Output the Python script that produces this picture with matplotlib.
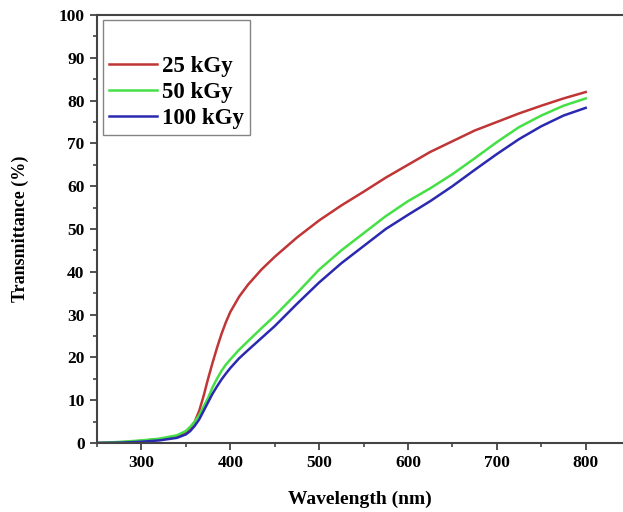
import matplotlib
matplotlib.use("Agg")
import matplotlib.pyplot as plt
from matplotlib.ticker import MultipleLocator

# wavelength (nm) and transmittance (%)
wavelength = [250, 280, 300, 320, 340, 350, 355, 360, 365, 370, 375, 380, 385,
              390, 395, 400, 410, 420, 435, 450, 475, 500, 525, 550, 575, 600,
              625, 650, 675, 700, 725, 750, 775, 800]

t_25kgy = [0, 0.2, 0.5, 0.9, 1.5, 2.5, 3.5, 5, 7.5, 11, 15, 18.7, 22.2,
           25.4, 28.2, 30.6, 34.2, 37, 40.5, 43.5, 48, 52, 55.5, 58.7, 62, 65,
           68, 70.5, 73, 75, 77, 78.8, 80.5, 82]

t_50kgy = [0, 0.3, 0.6, 1.0, 1.8, 2.8, 3.8, 5, 6.5, 8.5, 10.5, 13, 15,
           16.8, 18.3, 19.5, 21.8, 23.8, 26.8, 29.7, 35, 40.5, 45, 49, 53, 56.5,
           59.5, 62.8, 66.5, 70.3, 73.8, 76.5, 78.8, 80.5]

t_100kgy = [0, 0.1, 0.3, 0.6, 1.2, 2, 2.8, 4, 5.5, 7.5, 9.5, 11.5, 13.2,
            14.8, 16.2, 17.5, 19.8, 21.7, 24.5, 27.3, 32.5, 37.5, 42, 46, 50,
            53.3, 56.5, 60, 63.8, 67.5, 71, 74, 76.5, 78.3]

labels = ["25 kGy", "50 kGy", "100 kGy"]
colors = ["#c03535", "#45e045", "#2a2ab0"]

plt.rcParams['font.family'] = ['Liberation Serif', 'DejaVu Serif']
plt.rcParams['font.weight'] = 'bold'

fig = plt.figure(figsize=(6.23, 5.12), dpi=100)
ax = fig.add_axes([0.1557, 0.1348, 0.8443, 0.8359])

for ys, lab, c in zip([t_25kgy, t_50kgy, t_100kgy], labels, colors):
    ax.plot(wavelength, ys, color=c, lw=1.8, label=lab)

ax.set_xlim(250, 842)
ax.set_ylim(0, 100)
ax.xaxis.set_major_locator(MultipleLocator(100))
ax.xaxis.set_minor_locator(MultipleLocator(50))
ax.yaxis.set_major_locator(MultipleLocator(10))
ax.yaxis.set_minor_locator(MultipleLocator(5))

for side in ["left", "bottom", "top"]:
    ax.spines[side].set_color("#444444")
    ax.spines[side].set_linewidth(1.5)
ax.spines["right"].set_visible(False)

ax.tick_params(which="major", direction="out", length=5, width=1.3,
               color="#444444", labelsize=12.5, pad=4)
ax.tick_params(which="minor", direction="out", length=3, width=1.2,
               color="#444444")
for lbl in ax.get_xticklabels() + ax.get_yticklabels():
    lbl.set_fontweight("bold")

ax.set_xlabel("Wavelength (nm)", fontsize=14, fontweight="bold", labelpad=14)
ax.set_ylabel("Transmittance (%)", fontsize=13, fontweight="bold", labelpad=21)

leg = ax.legend(loc="upper left", bbox_to_anchor=(0.011, 0.988), title=" ",
                title_fontsize=20, prop={"size": 16.5, "weight": "bold"},
                frameon=True, fancybox=False, edgecolor="#666666",
                handlelength=2.1, handletextpad=0.25, labelspacing=0.22,
                borderpad=0.25, borderaxespad=0)
leg.get_frame().set_linewidth(1.0)

fig.savefig("out.png", dpi=100)
